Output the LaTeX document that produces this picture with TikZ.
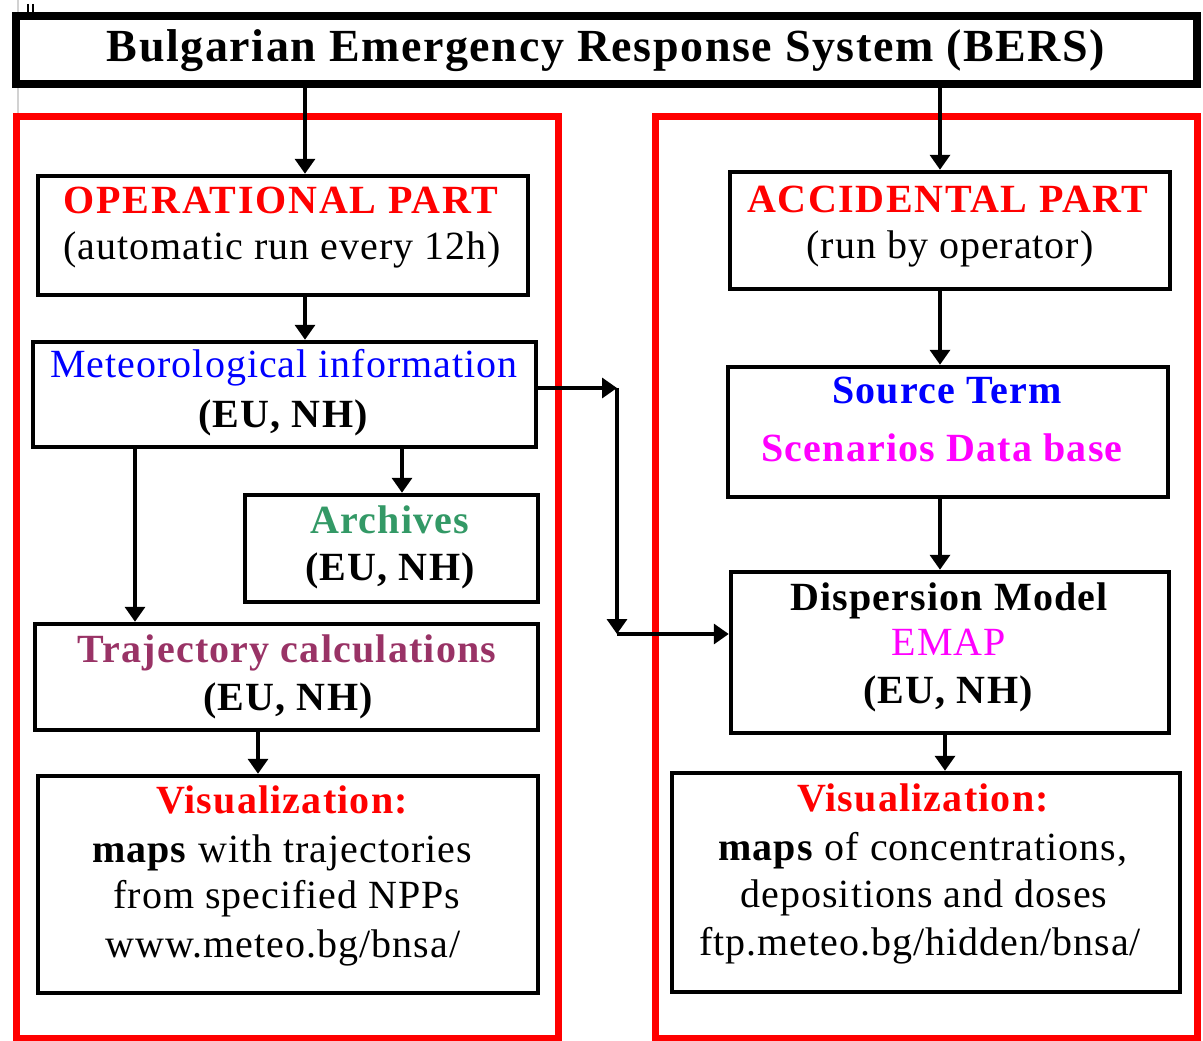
\documentclass[tikz,border=0pt]{standalone}
\usepackage{fontspec}
\setmainfont{Liberation Serif}[LetterSpace=2.5]
\usetikzlibrary{arrows.meta}
\definecolor{cred}{HTML}{FF0000}
\definecolor{cblue}{HTML}{0000FF}
\definecolor{cgreen}{HTML}{339966}
\definecolor{cpurple}{HTML}{993366}
\definecolor{cmag}{HTML}{FF00FF}
\begin{document}
\begin{tikzpicture}[x=1pt,y=-1pt,
  box/.style={draw=black, line width=4.5pt, rectangle, inner sep=0pt},
  partbox/.style={draw=cred, line width=7pt, rectangle, inner sep=0pt},
  arr/.style={line width=3.5pt, -{Triangle[length=15pt,width=20pt]}},
  txt/.style={anchor=base, inner sep=0pt, font=\fontsize{40}{48}\selectfont},
  btxt/.style={txt, font=\fontsize{40}{48}\selectfont\bfseries\addfontfeature{LetterSpace=3}},
]
\useasboundingbox (0,0) rectangle (1203,1041);
% faint artifacts at top left
\draw[gray!35, line width=1.5pt] (18,0) -- (18,116);
\draw[black, line width=1.2pt] (28,4) -- (28,13) (33,4) -- (33,13);

% frames
\node[partbox, minimum width=542pt, minimum height=922pt] (lpart) at (287,577) {};
\node[partbox, minimum width=542pt, minimum height=922pt] (rpart) at (926,577) {};
\node[box, fill=white, line width=8pt, minimum width=1181pt, minimum height=68pt] (title) at (606.5,50) {};
\node[anchor=base, inner sep=0pt, font=\fontsize{46}{50}\selectfont\bfseries\addfontfeature{LetterSpace=3.4}] (titlet) at (606,62) {Bulgarian Emergency Response System (BERS)};

% boxes
\node[box, minimum width=490pt, minimum height=119pt] (op) at (283,235.5) {};
\node[box, minimum width=503pt, minimum height=105pt] (met) at (284.5,394.5) {};
\node[box, minimum width=293pt, minimum height=107pt] (arch) at (391.5,548.5) {};
\node[box, minimum width=503pt, minimum height=106pt] (traj) at (286.5,677) {};
\node[box, minimum width=500pt, minimum height=217pt] (visl) at (288,884.5) {};
\node[box, minimum width=440pt, minimum height=117pt] (acc) at (950,230.5) {};
\node[box, minimum width=440pt, minimum height=130pt] (src) at (948,432) {};
\node[box, minimum width=438pt, minimum height=161pt] (disp) at (950,652.5) {};
\node[box, minimum width=508pt, minimum height=219pt] (visr) at (926,882.5) {};

% texts
\node[btxt, text=cred, font=\fontsize{40}{48}\selectfont\bfseries\addfontfeature{LetterSpace=4.5}] (opa) at (281,213) {OPERATIONAL PART};
\node[txt] (opb) at (282,259) {(automatic run every 12h)};
\node[txt, text=cblue] (meta) at (284,377) {Meteorological information};
\node[btxt] (metb) at (283,427) {(EU, NH)};
\node[btxt, text=cgreen] (archa) at (390,533) {Archives};
\node[btxt] (archb) at (390,580) {(EU, NH)};
\node[btxt, text=cpurple] (traja) at (287,662) {Trajectory calculations};
\node[btxt] (trajb) at (288,710) {(EU, NH)};
\node[btxt, text=cred] (visla) at (282,813) {Visualization:};
\node[txt] (vislb) at (282,862) {\textbf{maps} with trajectories};
\node[txt] (vislc) at (287,908) {from specified NPPs};
\node[txt] (visld) at (283,957) {www.meteo.bg/bnsa/};
\node[btxt, text=cred, font=\fontsize{40}{48}\selectfont\bfseries\addfontfeature{LetterSpace=4}] (acca) at (948,212) {ACCIDENTAL PART};
\node[txt] (accb) at (950,258) {(run by operator)};
\node[btxt, text=cblue] (srca) at (947,403) {Source Term};
\node[btxt, text=cmag] (srcb) at (942,461) {Scenarios Data base};
\node[btxt] (dispa) at (949,610) {Dispersion Model};
\node[txt, text=cmag] (dispb) at (949,655) {EMAP};
\node[btxt] (dispc) at (948,703) {(EU, NH)};
\node[btxt, text=cred] (visra) at (923,811) {Visualization:};
\node[txt] (visrb) at (923,860) {\textbf{maps} of concentrations,};
\node[txt] (visrc) at (924,907) {depositions and doses};
\node[txt] (visrd) at (920,955) {ftp.meteo.bg/hidden/bnsa/};

% connector helper coordinates
\coordinate (xa) at (305,0);
\coordinate (xb) at (940,0);
\coordinate (xc) at (402,0);
\coordinate (xd) at (135,0);
\coordinate (xe) at (258,0);
\coordinate (xf) at (945,0);
\coordinate (j1) at (617,388);
\coordinate (j2) at (617,634);

% connectors
\draw[arr] (title.south -| xa) -- (op.north -| xa);
\draw[arr] (title.south -| xb) -- (acc.north -| xb);
\draw[arr] (op.south -| xa) -- (met.north -| xa);
\draw[arr] (met.south -| xc) -- (arch.north -| xc);
\draw[arr] (met.south -| xd) -- (traj.north -| xd);
\draw[arr] (traj.south -| xe) -- (visl.north -| xe);
\draw[arr] (acc.south -| xb) -- (src.north -| xb);
\draw[arr] (src.south -| xb) -- (disp.north -| xb);
\draw[arr] (disp.south -| xf) -- (visr.north -| xf);
\draw[arr] (met.east |- j1) -- (j1);
\draw[arr] (j1) -- (j2);
\draw[arr] (j2) -- (disp.west |- j2);
\end{tikzpicture}
\end{document}
